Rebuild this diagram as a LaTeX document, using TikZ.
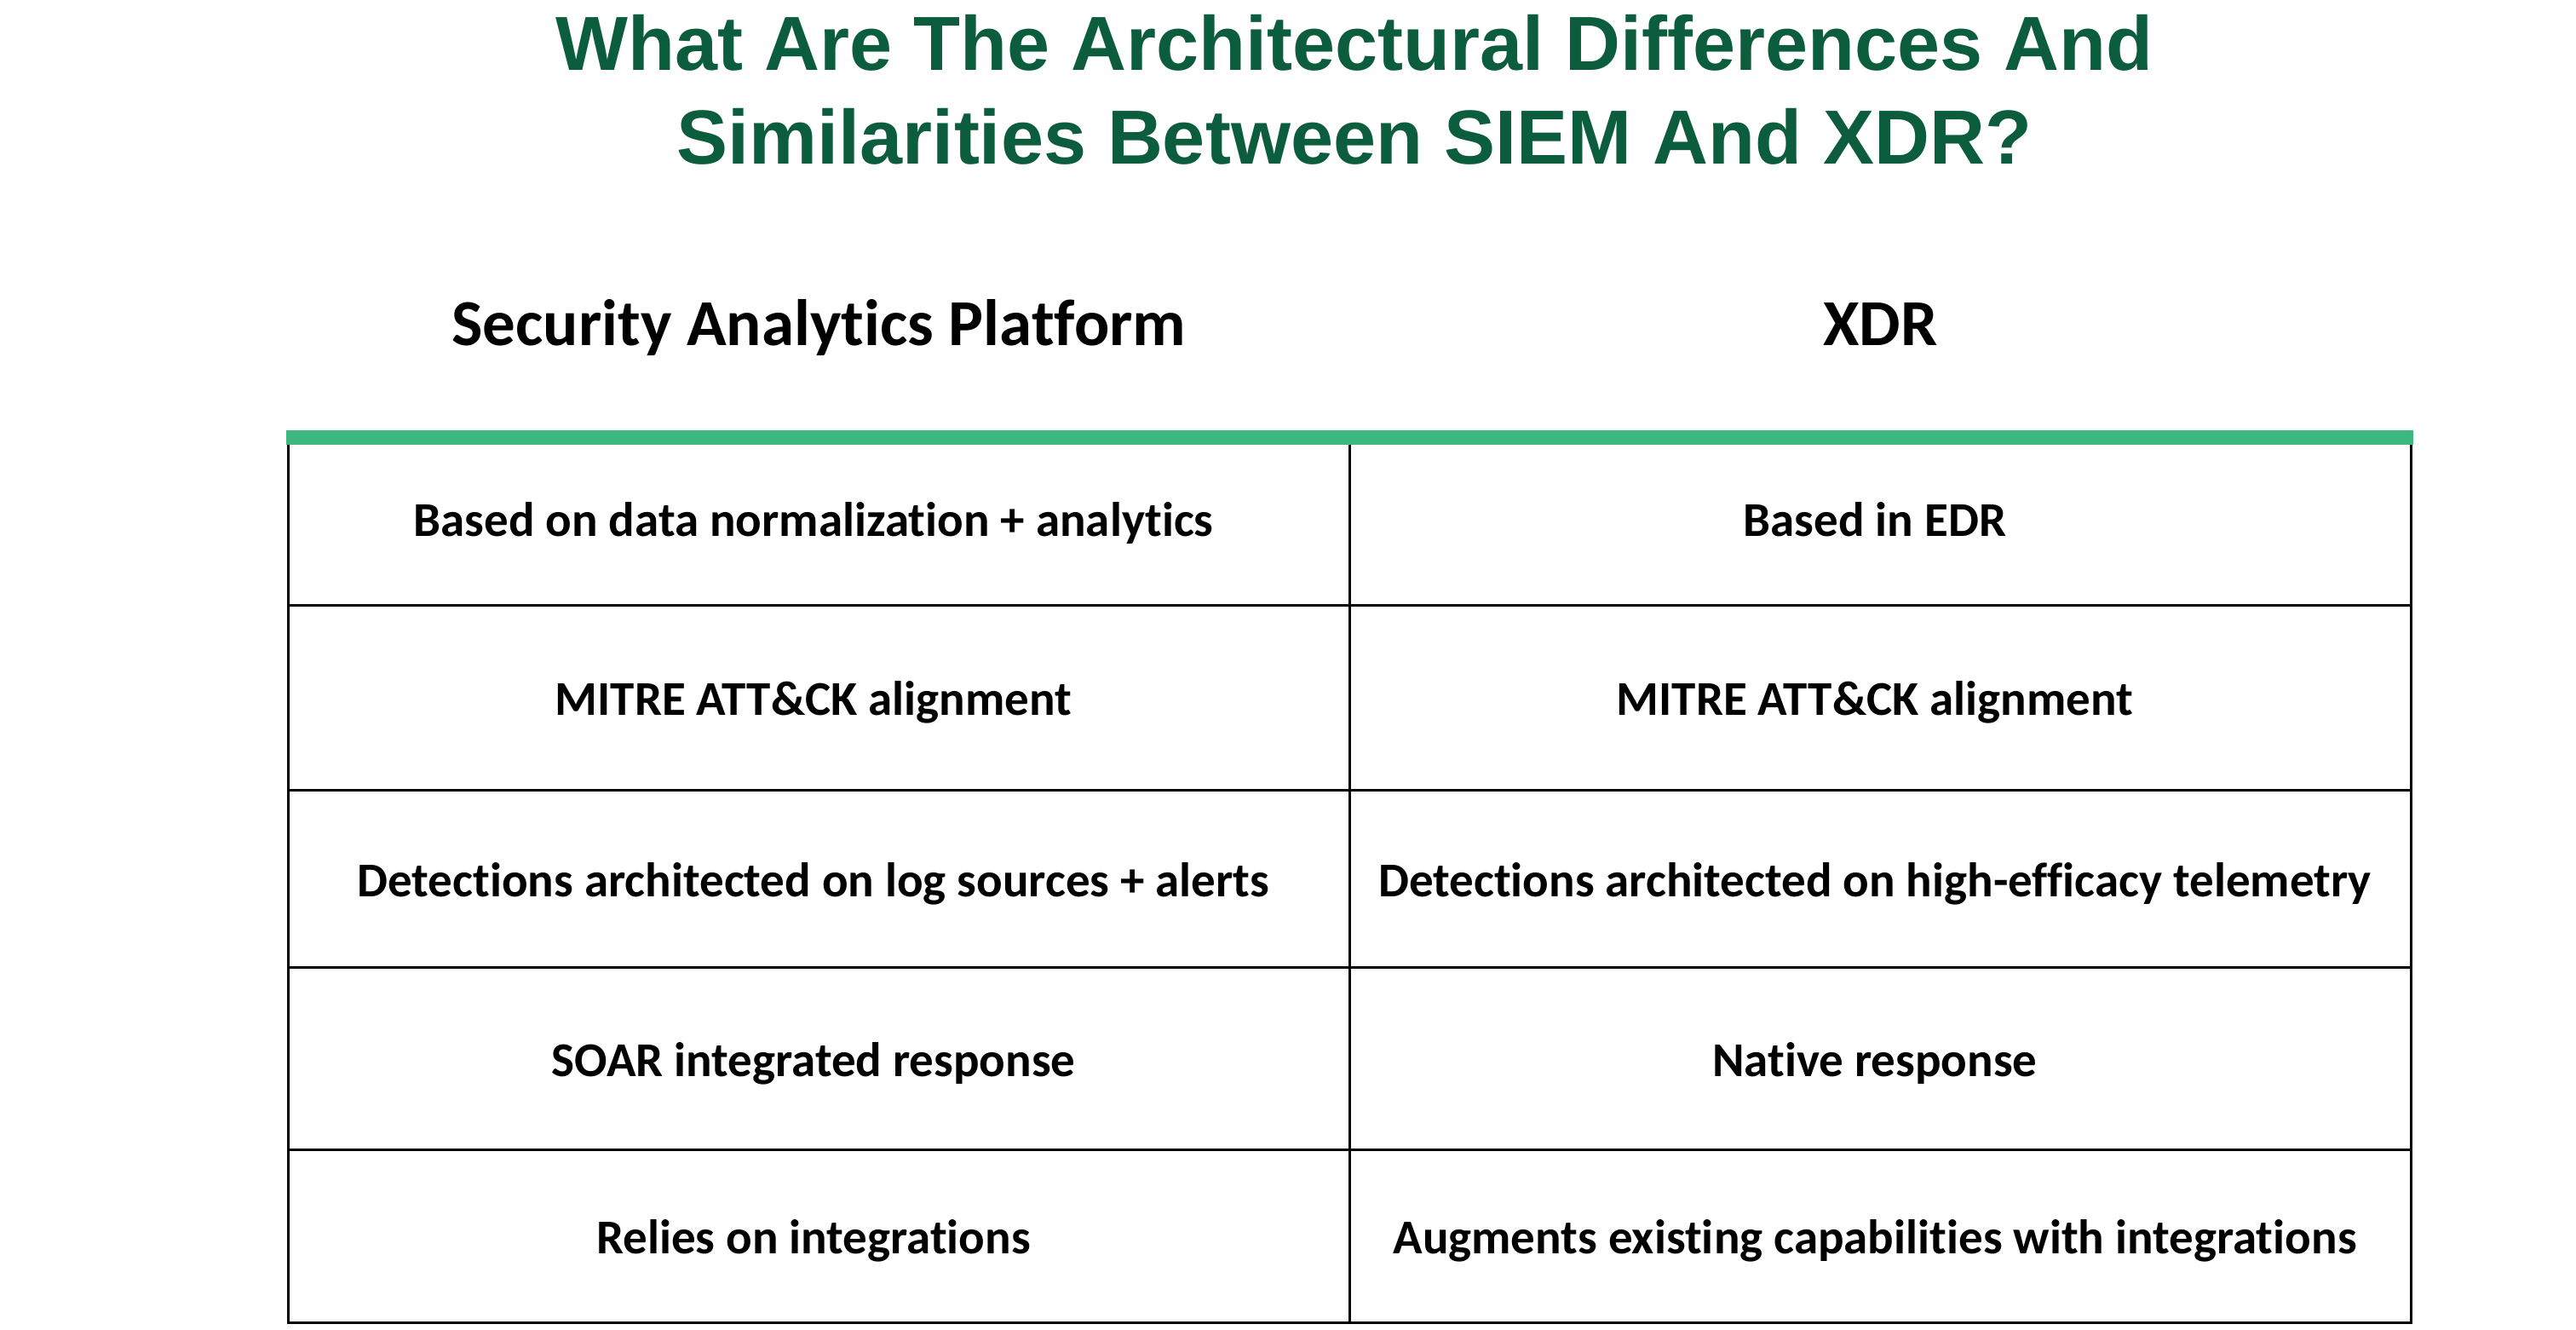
\documentclass[tikz,border=0pt]{standalone}
\usepackage{fontspec}
\setmainfont{Carlito}[Ligatures=NoCommon]
\newfontfamily\titlefont{Liberation Sans}
\usetikzlibrary{matrix, calc, positioning}
\definecolor{titlegreen}{RGB}{11,93,62}
\definecolor{bargreen}{RGB}{61,184,126}

\begin{document}
\begin{tikzpicture}[x=1pt,y=1pt,
        tbl/.style={
            matrix of nodes,
            line width=1.2pt,
            inner sep=0pt,
            row sep=-\pgflinewidth,
            column sep=-\pgflinewidth,
            nodes={draw, inner sep=3pt, minimum width=623pt, align=center,
                font=\bfseries\fontsize{28.5}{34}\selectfont,
                text height=25pt, text depth=4pt},
            row 1/.style={nodes={minimum height=101.5pt}},
            row 2/.style={nodes={minimum height=108.5pt}},
            row 3/.style={nodes={minimum height=104pt}},
            row 4/.style={nodes={minimum height=107pt}},
            row 5/.style={nodes={minimum height=101.5pt}}
        },
        hdr/.style={font=\bfseries\fontsize{38.5}{46}\selectfont, anchor=base}]
        \useasboundingbox (0,0) rectangle (1512,-780);
        % title
        \node[font=\titlefont\bfseries\fontsize{45}{55}\selectfont, text=titlegreen,
            align=center, anchor=base] (ttl) at (795,-96)
            {What Are The Architectural Differences And\\Similarities Between SIEM And XDR?};
        % comparison table
        \matrix (tbl) [tbl, anchor=north west] at (168,-252.5) {
            Based on data normalization + analytics         & Based in EDR \\
            MITRE ATT\&CK alignment                         & MITRE ATT\&CK alignment \\
            Detections architected on log sources + alerts  & Detections architected on high-efficacy telemetry \\
            SOAR integrated response                        & Native response \\
            Relies on integrations                          & Augments existing capabilities with integrations \\
        };
        \fill[bargreen] (tbl.north west) rectangle ($(tbl.north east)+(0,-8.5)$);
        % column headers
        \coordinate (hdrline) at (0,-202.5);
        \node[hdr] (hdSAP) at (tbl-1-1 |- hdrline) {Security Analytics Platform};
        \node[hdr] (hdXDR) at (tbl-1-2 |- hdrline) {XDR};
\end{tikzpicture}
\end{document}
